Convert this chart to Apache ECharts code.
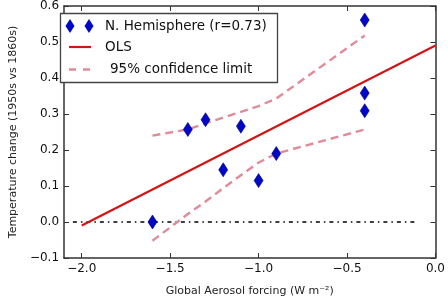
<!DOCTYPE html>
<html>
<head>
<meta charset="utf-8">
<script src="https://cdn.jsdelivr.net/npm/echarts@6/dist/echarts.min.js"></script>
<style>
  html, body { margin: 0; padding: 0; background: #fff; }
  #chart { width: 448px; height: 302px; }
</style>
</head>
<body>
<div id="chart"></div>
<script>
// observations (forcing, temperature change)
const forcing = [-1.6, -1.4, -1.3, -1.2, -1.1, -1.0, -0.9, -0.4, -0.4, -0.4]
const tempChange = [0.0, 0.257, 0.284, 0.145, 0.266, 0.115, 0.19, 0.561, 0.358, 0.309]

// OLS fit end points
const olsX = [-2.0, 0.0]
const olsY = [-0.01, 0.49]

// 95% confidence limits, read at the data x positions
const bandX = [-1.6, -1.4, -1.3, -1.2, -1.1, -1.0, -0.9, -0.4]
const bandUpper = [0.24, 0.257, 0.274, 0.29, 0.306, 0.322, 0.343, 0.518]
const bandLower = [-0.052, 0.022, 0.057, 0.094, 0.13, 0.165, 0.19, 0.257]

// zero reference line extent
const zeroX = [-2.05, -0.1]

const xTicks = [-2.0, -1.5, -1.0, -0.5, 0.0]

const fmt = (v) => v.toFixed(1).replace('-', '\u2212')
const pairs = (xs, ys) => xs.map((x, i) => [x, ys[i]])

let chart = echarts.init(document.getElementById('chart'))

const font = 'DejaVu Sans'
const axisLine = { show: true, onZero: false, lineStyle: { color: '#333', width: 1.5 } }

let option = {
  animation: false,
  grid: { left: 54, right: 8, top: 6, bottom: 38 },
  xAxis: [
    {
      type: 'value',
      min: -2.1,
      max: 0,
      position: 'bottom',
      axisLine: axisLine,
      axisTick: { show: true, inside: true, length: 5, customValues: xTicks, lineStyle: { color: '#333' } },
      axisLabel: { customValues: xTicks, formatter: fmt, color: '#111', fontFamily: font, fontSize: 12, margin: 5 },
      splitLine: { show: false },
      name: 'Global Aerosol forcing (W m\u207B\u00B2)',
      nameLocation: 'middle',
      nameGap: 28,
      nameTextStyle: { color: '#222', fontFamily: font, fontSize: 11 },
    },
    {
      type: 'value',
      min: -2.1,
      max: 0,
      position: 'top',
      axisLine: axisLine,
      axisTick: { show: true, inside: true, length: 5, customValues: xTicks, lineStyle: { color: '#333' } },
      axisLabel: { show: false },
      splitLine: { show: false },
    },
  ],
  yAxis: [
    {
      type: 'value',
      min: -0.1,
      max: 0.6,
      interval: 0.1,
      position: 'left',
      axisLine: axisLine,
      axisTick: { show: true, inside: true, length: 5, lineStyle: { color: '#333' } },
      axisLabel: { formatter: fmt, color: '#111', fontFamily: font, fontSize: 12, margin: 5 },
      splitLine: { show: false },
      name: 'Temperature change (1950s vs 1860s)',
      nameLocation: 'middle',
      nameGap: 38,
      nameTextStyle: { color: '#222', fontFamily: font, fontSize: 11 },
    },
    {
      type: 'value',
      min: -0.1,
      max: 0.6,
      interval: 0.1,
      position: 'right',
      axisLine: axisLine,
      axisTick: { show: true, inside: true, length: 5, lineStyle: { color: '#333' } },
      axisLabel: { show: false },
      splitLine: { show: false },
    },
  ],
  series: [
    {
      type: 'line',
      data: pairs(zeroX, [0, 0]),
      symbol: 'none',
      lineStyle: { color: '#000', width: 1.3, type: [4, 4, 1.5, 4] },
      silent: true,
    },
    {
      name: 'upper',
      type: 'line',
      data: pairs(bandX, bandUpper),
      symbol: 'none',
      lineStyle: { color: '#e08a9a', width: 2.4, type: [8, 5] },
    },
    {
      name: 'lower',
      type: 'line',
      data: pairs(bandX, bandLower),
      symbol: 'none',
      lineStyle: { color: '#e08a9a', width: 2.4, type: [8, 5] },
    },
    {
      name: 'OLS',
      type: 'line',
      data: pairs(olsX, olsY),
      symbol: 'none',
      lineStyle: { color: '#d41414', width: 2.2 },
    },
    {
      name: 'N. Hemisphere (r=0.73)',
      type: 'scatter',
      data: pairs(forcing, tempChange),
      symbol: 'diamond',
      symbolSize: [9, 14],
      itemStyle: { color: '#0008c8', opacity: 1, borderColor: '#000070', borderWidth: 0.6 },
      z: 5,
    },
  ],
  graphic: [
    {
      type: 'rect',
      shape: { x: 60.5, y: 13.5, width: 217, height: 69 },
      style: { fill: '#fff', stroke: '#444', lineWidth: 1.3 },
      z: 100,
    },
    { type: 'polygon', shape: { points: [[70, 19], [74.5, 26], [70, 33], [65.5, 26]] }, style: { fill: '#0008c8' }, z: 101 },
    { type: 'polygon', shape: { points: [[89, 19], [93.5, 26], [89, 33], [84.5, 26]] }, style: { fill: '#0008c8' }, z: 101 },
    { type: 'line', shape: { x1: 69, y1: 47, x2: 91, y2: 47 }, style: { stroke: '#d41414', lineWidth: 2.2 }, z: 101 },
    { type: 'line', shape: { x1: 69, y1: 69.5, x2: 91, y2: 69.5 }, style: { stroke: '#e08a9a', lineWidth: 2.4, lineDash: [7, 7] }, z: 101 },
    { type: 'text', x: 105, y: 26, style: { text: 'N. Hemisphere (r=0.73)', fill: '#111', font: '13.5px "DejaVu Sans"', verticalAlign: 'middle' }, z: 101 },
    { type: 'text', x: 105, y: 47, style: { text: 'OLS', fill: '#111', font: '13.5px "DejaVu Sans"', verticalAlign: 'middle' }, z: 101 },
    { type: 'text', x: 110, y: 69, style: { text: '95% confidence limit', fill: '#111', font: '13.5px "DejaVu Sans"', verticalAlign: 'middle' }, z: 101 },
  ],
}

chart.setOption(option)
window.addEventListener('resize', () => {
  chart.resize()
})
</script>
</body>
</html>
